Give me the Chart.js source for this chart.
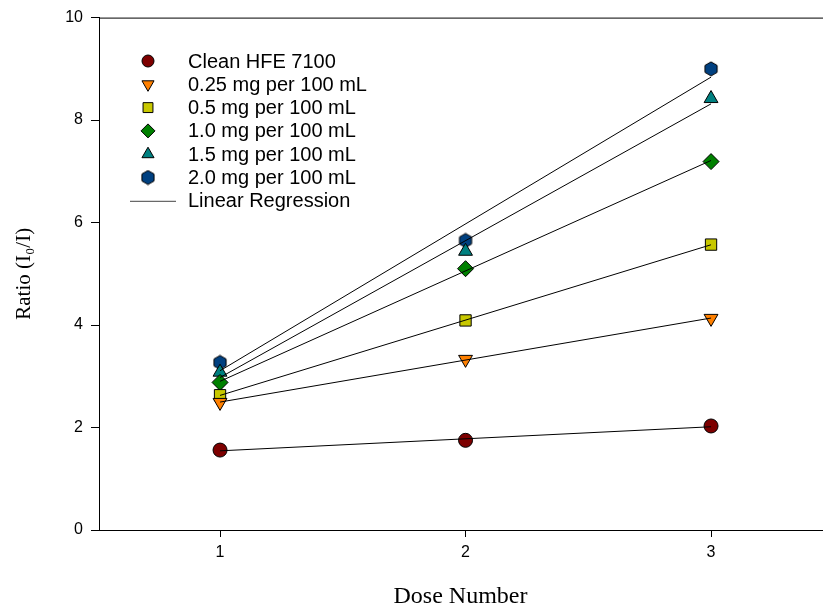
<!DOCTYPE html>
<html>
<head>
<meta charset="utf-8">
<script src="https://cdn.jsdelivr.net/npm/chart.js@4/dist/chart.umd.min.js"></script>
<style>
  body { margin: 0; background: #fff; overflow: hidden; }
  #wrap { width: 831px; height: 609px; }
</style>
</head>
<body>
<div id="wrap"><canvas id="js-dose-chart"></canvas></div>
<script>
// data
var doses = [1, 2, 3]
var seriesNames = [
  "Clean HFE 7100",
  "0.25 mg per 100 mL",
  "0.5 mg per 100 mL",
  "1.0 mg per 100 mL",
  "1.5 mg per 100 mL",
  "2.0 mg per 100 mL"
]
var clean = [1.56, 1.75, 2.03]
var mg025 = [2.49, 3.33, 4.13]
var mg05 = [2.63, 4.09, 5.57]
var mg10 = [2.88, 5.10, 7.19]
var mg15 = [3.08, 5.44, 8.42]
var mg20 = [3.27, 5.65, 9.00]
var yTicks = [0, 2, 4, 6, 8, 10]

// hexagon marker (not a built-in point style)
function hexagon(r, fill) {
  var c = document.createElement("canvas")
  var s = r * 2 + 2
  c.width = s; c.height = s
  var g = c.getContext("2d")
  g.beginPath()
  for (var i = 0; i < 6; i++) {
    var a = Math.PI / 6 + i * Math.PI / 3
    var px = s / 2 + r * Math.cos(a), py = s / 2 + r * Math.sin(a)
    if (i === 0) g.moveTo(px, py); else g.lineTo(px, py)
  }
  g.closePath()
  g.fillStyle = fill
  g.fill()
  g.lineWidth = 1
  g.strokeStyle = "#000"
  g.stroke()
  return c
}

var styles = [
  { fill: "#7d0000", point: "circle", rot: 0, r: 7 },
  { fill: "#ff8000", point: "triangle", rot: 180, r: 8 },
  { fill: "#c8c800", point: "rect", rot: 0, r: 8 },
  { fill: "#008000", point: "rectRot", rot: 0, r: 8 },
  { fill: "#008080", point: "triangle", rot: 0, r: 8 },
  { fill: "#004080", point: hexagon(7, "#004080"), rot: 0, r: 8 }
]
var allSeries = [clean, mg025, mg05, mg10, mg15, mg20]

// least-squares line through each series, drawn from dose 1 to dose 3
function fit(ys) {
  var n = doses.length, mx = 0, my = 0
  for (var i = 0; i < n; i++) { mx += doses[i]; my += ys[i] }
  mx /= n; my /= n
  var sxy = 0, sxx = 0
  for (var j = 0; j < n; j++) {
    sxy += (doses[j] - mx) * (ys[j] - my)
    sxx += (doses[j] - mx) * (doses[j] - mx)
  }
  var b = sxy / sxx, a = my - b * mx
  return [{ x: doses[0], y: a + b * doses[0] }, { x: doses[n - 1], y: a + b * doses[n - 1] }]
}

var datasets = []
allSeries.forEach(function (ys) {
  datasets.push({
    type: "line",
    data: fit(ys),
    borderColor: "#000",
    borderWidth: 1,
    pointRadius: 0,
    fill: false
  })
})
allSeries.forEach(function (ys, k) {
  var st = styles[k]
  datasets.push({
    type: "scatter",
    label: seriesNames[k],
    data: doses.map(function (d, i) { return { x: d, y: ys[i] } }),
    pointStyle: st.point,
    rotation: st.rot,
    pointRadius: st.r,
    backgroundColor: st.fill,
    borderColor: "#000",
    borderWidth: 1
  })
})

var legendPlugin = {
  id: "insideLegend",
  afterDraw: function (chart) {
    var c = chart.ctx
    var ca = chart.chartArea
    c.save()
    // top frame line
    c.strokeStyle = "#000"
    c.lineWidth = 1
    c.beginPath()
    c.moveTo(ca.left, ca.top + 0.5)
    c.lineTo(chart.width, ca.top + 0.5)
    c.stroke()

    c.font = "20px 'Liberation Sans', Arial, sans-serif"
    c.textBaseline = "middle"
    c.fillStyle = "#000"
    var y0 = 61, dy = 23.3
    seriesNames.forEach(function (name, k) {
      var st = styles[k]
      var y = y0 + k * dy
      c.fillStyle = st.fill
      c.strokeStyle = "#000"
      c.lineWidth = 1
      Chart.helpers.drawPoint(c, { pointStyle: st.point, rotation: st.rot, radius: st.r - 1, borderWidth: 1 }, 148, y)
      c.fillStyle = "#000"
      c.fillText(name, 188, y + 1)
    })
    var yl = y0 + 6 * dy
    c.strokeStyle = "#444"
    c.beginPath()
    c.moveTo(130, yl + 0.5)
    c.lineTo(176, yl + 0.5)
    c.stroke()
    c.fillText("Linear Regression", 188, yl + 1)
    c.restore()
  }
}

var ctx = document.getElementById("js-dose-chart")
var chart = new Chart(ctx, {
  data: { datasets: datasets },
  options: {
    responsive: true,
    maintainAspectRatio: false,
    animation: false,
    layout: { padding: { top: 17, right: 0, left: 0, bottom: 0 } },
    plugins: {
      legend: { display: false },
      tooltip: { enabled: false }
    },
    scales: {
      x: {
        type: "linear",
        min: 0.507,
        max: 3.452,
        afterFit: function (s) { s.height = 79 },
        afterBuildTicks: function (s) { s.ticks = doses.map(function (v) { return { value: v } }) },
        grid: { display: true, drawOnChartArea: false, tickLength: 7, color: "#000" },
        border: { display: true, color: "#000", width: 1 },
        ticks: { color: "#000", padding: 6, font: { family: "'Liberation Sans', Arial", size: 16 } },
        title: {
          display: true,
          text: "Dose Number",
          color: "#000",
          padding: { top: 0, bottom: 0 },
          font: { family: "'Liberation Serif', 'Times New Roman', serif", size: 24, lineHeight: 1.0 }
        }
      },
      y: {
        type: "linear",
        min: 0,
        max: 10,
        afterFit: function (s) { s.width = 99 },
        afterBuildTicks: function (s) { s.ticks = yTicks.map(function (v) { return { value: v } }) },
        grid: { display: true, drawOnChartArea: false, tickLength: 8, color: "#000" },
        border: { display: true, color: "#000", width: 1 },
        ticks: { color: "#000", padding: 8, font: { family: "'Liberation Sans', Arial", size: 16 } },
        title: {
          display: true,
          text: "Ratio (I\u2080/I)",
          color: "#000",
          padding: { top: 12, bottom: 0 },
          font: { family: "'Liberation Serif', 'Times New Roman', serif", size: 21 }
        }
      }
    }
  },
  plugins: [legendPlugin]
})
</script>
</body>
</html>
